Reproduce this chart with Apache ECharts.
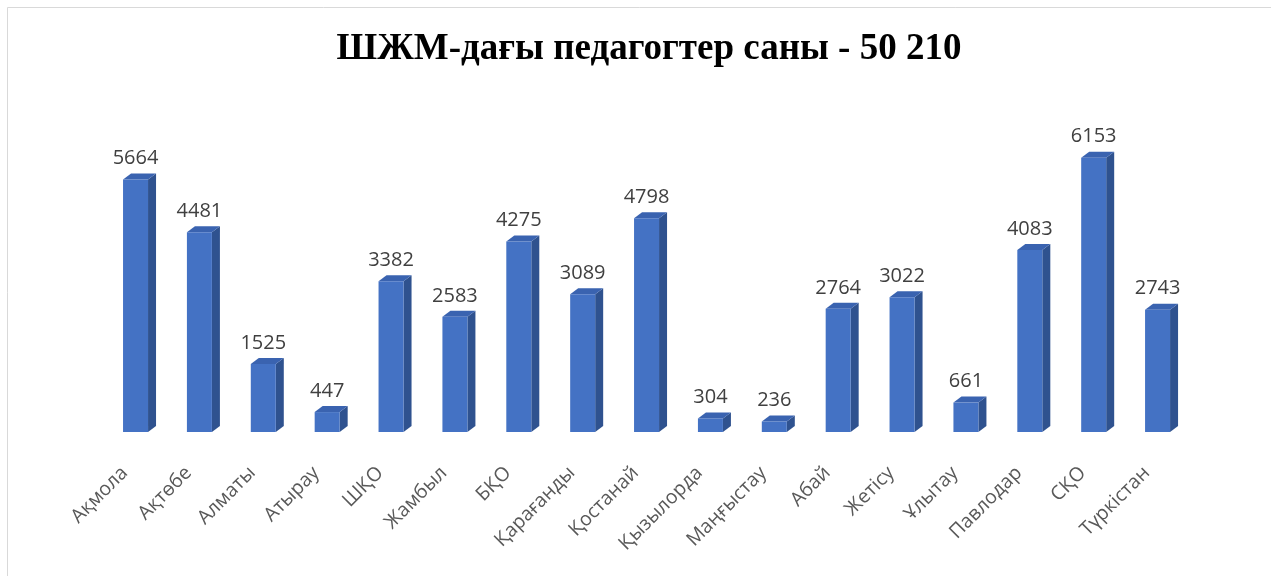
<!DOCTYPE html>
<html>
<head>
<meta charset="utf-8">
<script src="https://cdn.jsdelivr.net/npm/echarts@6/dist/echarts.min.js"></script>
<style>
  html, body { margin: 0; padding: 0; background: #fff; }
  #main { width: 1271px; height: 576px; }
</style>
</head>
<body>
<div id="main"></div>
<script>
// регионы и количество педагогов
const regions = ['Ақмола', 'Ақтөбе', 'Алматы', 'Атырау', 'ШҚО', 'Жамбыл', 'БҚО', 'Қарағанды',
  'Қостанай', 'Қызылорда', 'Маңғыстау', 'Абай', 'Жетісу', 'Ұлытау', 'Павлодар', 'СҚО', 'Түркістан']
const teachers = [5664, 4481, 1525, 447, 3382, 2583, 4275, 3089, 4798, 304, 236, 2764, 3022, 661, 4083, 6153, 2743]
const titleText = 'ШЖМ-дағы педагогтер саны - 50 210'

const front = '#4472C4', side = '#2F528F', topc = '#3A63B0'
const barW = 25, depX = 8, depY = 6

function renderBar(params, api) {
  const top = api.coord([api.value(0), api.value(1)])
  const base = api.coord([api.value(0), 0])
  const x0 = top[0] - barW / 2 - 4
  const x1 = x0 + barW
  const y0 = top[1], y1 = base[1]
  return {
    type: 'group',
    children: [
      { type: 'polygon', shape: { points: [[x1, y0], [x1 + depX, y0 - depY], [x1 + depX, y1 - depY], [x1, y1]] }, style: { fill: side } },
      { type: 'polygon', shape: { points: [[x0, y0], [x0 + depX, y0 - depY], [x1 + depX, y0 - depY], [x1, y0]] }, style: { fill: topc } },
      { type: 'rect', shape: { x: x0, y: y0, width: barW, height: y1 - y0 }, style: { fill: front } },
      { type: 'text', style: { text: String(api.value(1)), x: x0 + barW / 2, y: y0 - 11, align: 'center', verticalAlign: 'bottom',
          fill: '#404040', font: '20px "Open Sans"' } }
    ]
  }
}

const chart = echarts.init(document.getElementById('main'))
chart.setOption({
  backgroundColor: '#fff',
  animation: false,
  title: {
    text: titleText,
    left: 644,
    textAlign: 'center',
    top: 26,
    textStyle: { fontFamily: 'Liberation Serif', fontWeight: 'bold', fontSize: 37, color: '#000' }
  },
  graphic: [{
    type: 'rect', shape: { x: 7.5, y: 7.5, width: 1400, height: 700 },
    style: { fill: null, stroke: '#d9d9d9', lineWidth: 1 }, silent: true
  }],
  grid: { left: 107.6, right: 77.5, top: 120, bottom: 144 },
  xAxis: {
    type: 'category',
    data: regions,
    axisLine: { show: false },
    axisTick: { show: false },
    axisLabel: { interval: 0, rotate: 45, margin: 23, padding: [0, 21, 0, 0], fontSize: 19.5, color: '#595959', fontFamily: 'Open Sans' }
  },
  yAxis: { type: 'value', min: 0, max: 7000, show: false, splitLine: { show: false } },
  series: [{
    type: 'custom',
    renderItem: renderBar,
    data: regions.map((r, i) => [r, teachers[i]])
  }]
})
</script>
</body>
</html>
